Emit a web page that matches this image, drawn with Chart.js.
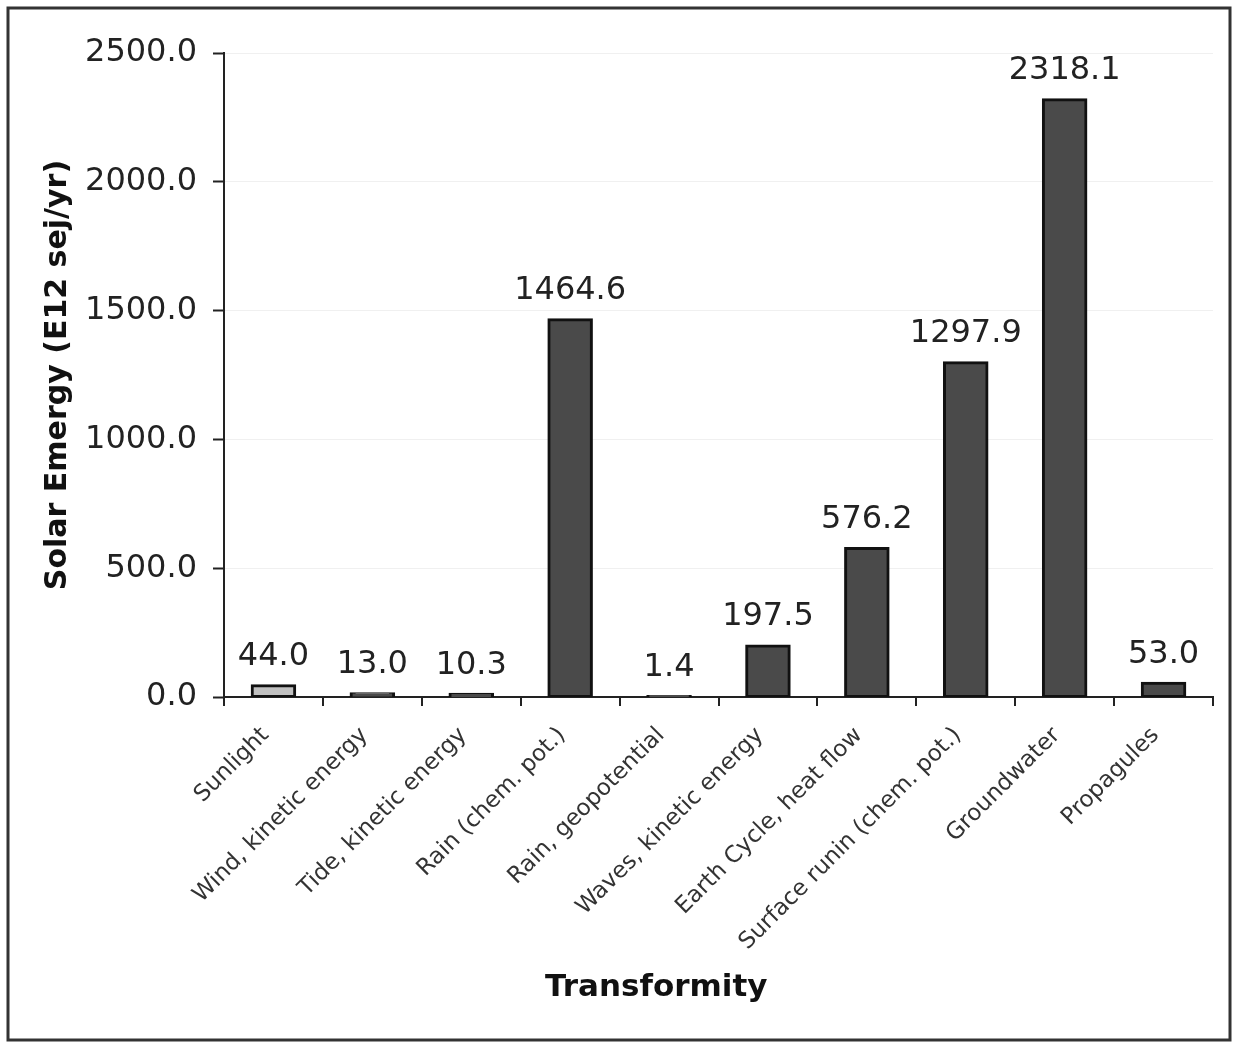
<!DOCTYPE html>
<html>
<head>
<meta charset="utf-8">
<script src="https://cdn.jsdelivr.net/npm/chart.js@4/dist/chart.umd.min.js"></script>
<style>
  html, body { margin: 0; padding: 0; background: #ffffff; }
  #wrap { width: 1233px; height: 1043px; }
</style>
</head>
<body>
<div id="wrap"><canvas id="chart" width="1233" height="1043"></canvas></div>
<script>
// Emergy inputs by source
const categories = [
  'Sunlight',
  'Wind, kinetic energy',
  'Tide, kinetic energy',
  'Rain (chem. pot.)',
  'Rain, geopotential',
  'Waves, kinetic energy',
  'Earth Cycle, heat flow',
  'Surface runin (chem. pot.)',
  'Groundwater',
  'Propagules'
];
const emergyValues = [44.0, 13.0, 10.3, 1464.6, 1.4, 197.5, 576.2, 1297.9, 2318.1, 53.0];
const barColors = ['#c0c0c0', '#4a4a4a', '#4a4a4a', '#4a4a4a', '#4a4a4a', '#4a4a4a', '#4a4a4a', '#4a4a4a', '#4a4a4a', '#4a4a4a'];
const yTicks = [0, 500, 1000, 1500, 2000, 2500];
const xTitle = 'Transformity';
const yTitle = 'Solar Emergy (E12 sej/yr)';

const FONT = '"DejaVu Sans", Verdana, sans-serif';

// Frame around the whole figure
const framePlugin = {
  id: 'frame',
  beforeDraw(chart) {
    const ctx = chart.ctx;
    ctx.save();
    ctx.fillStyle = '#ffffff';
    ctx.fillRect(0, 0, chart.width, chart.height);
    ctx.strokeStyle = '#333333';
    ctx.lineWidth = 3;
    ctx.strokeRect(8, 8, 1222, 1032);
    ctx.restore();
  }
};

// Value printed above each bar, plus the category-axis title
const valueLabels = {
  id: 'valueLabels',
  afterDatasetsDraw(chart) {
    const ctx = chart.ctx;
    const meta = chart.getDatasetMeta(0);
    ctx.save();
    ctx.font = '32px ' + FONT;
    ctx.fillStyle = '#222222';
    ctx.textAlign = 'center';
    ctx.textBaseline = 'bottom';
    meta.data.forEach((bar, i) => {
      ctx.fillText(emergyValues[i].toFixed(1), bar.x, bar.y - 13);
    });

    // x-axis title sits a little left of the plot centre
    const area = chart.chartArea;
    ctx.font = 'bold 31px ' + FONT;
    ctx.fillStyle = '#111111';
    ctx.textBaseline = 'middle';
    ctx.fillText(xTitle, area.left + (area.right - area.left) * 0.437, 988);
    ctx.restore();
  }
};

new Chart(document.getElementById('chart'), {
  type: 'bar',
  data: {
    labels: categories,
    datasets: [{
      data: emergyValues,
      backgroundColor: barColors,
      borderColor: '#111111',
      borderWidth: 3,
      borderSkipped: false,
      inflateAmount: 1.5,
      categoryPercentage: 1.0,
      barPercentage: 0.43
    }]
  },
  options: {
    responsive: false,
    animation: false,
    devicePixelRatio: 1,
    layout: { padding: { left: 40, right: 20, top: 53, bottom: 40 } },
    plugins: {
      legend: { display: false },
      tooltip: { enabled: false }
    },
    scales: {
      x: {
        grid: {
          offset: true,
          drawOnChartArea: false,
          tickColor: '#222222',
          tickLength: 9,
          lineWidth: 2
        },
        border: { color: '#222222', width: 2 },
        ticks: {
          autoSkip: false,
          minRotation: 45,
          maxRotation: 45,
          padding: 16,
          labelOffset: -8,
          color: '#333333',
          font: { family: FONT, size: 23 }
        },
        afterFit(scale) { scale.height = 306; }
      },
      y: {
        min: 0,
        max: 2500,
        afterBuildTicks(scale) { scale.ticks = yTicks.map(v => ({ value: v })); },
        grid: {
          color: '#f0f0f0',
          lineWidth: 1,
          tickColor: '#222222',
          tickLength: 11,
          tickWidth: 2
        },
        border: { color: '#222222', width: 2 },
        ticks: {
          padding: 16,
          color: '#222222',
          font: { family: FONT, size: 32 },
          callback: v => Number(v).toFixed(1)
        },
        title: {
          display: true,
          text: yTitle,
          color: '#111111',
          font: { family: FONT, size: 30, weight: 'bold' },
          padding: { top: 0, bottom: 0 }
        },
        afterFit(scale) { scale.width = 184; }
      }
    }
  },
  plugins: [framePlugin, valueLabels]
});
</script>
</body>
</html>
